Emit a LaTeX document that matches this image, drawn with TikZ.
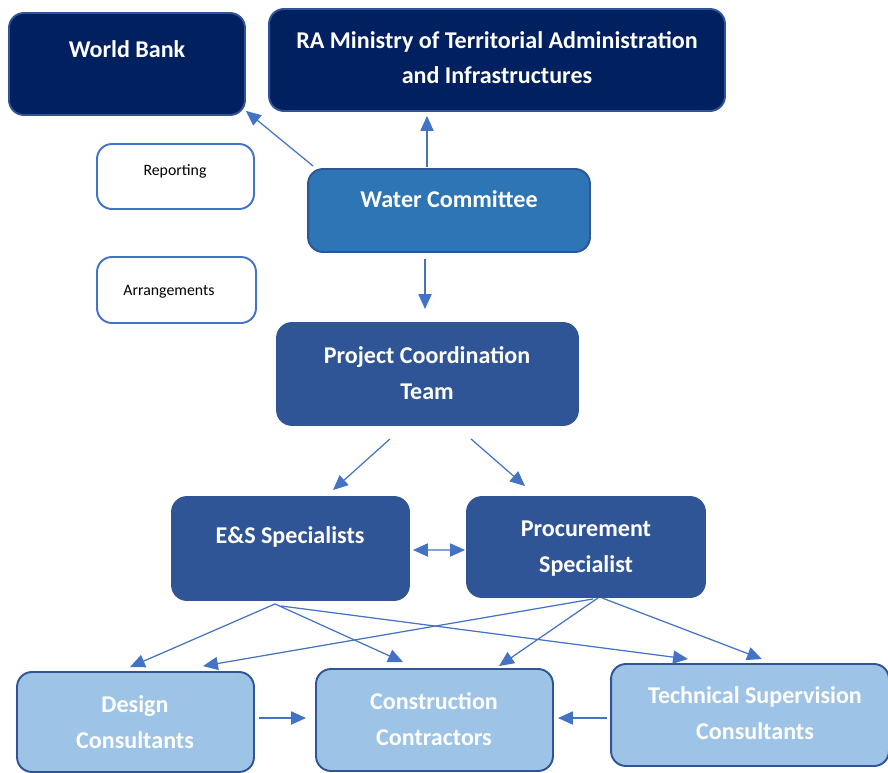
\documentclass[tikz,border=0pt]{standalone}
\usepackage{fontspec}
\setmainfont{Carlito}
\usetikzlibrary{arrows.meta,calc}

\definecolor{navy}{HTML}{002060}
\definecolor{midblue}{HTML}{2E75B6}
\definecolor{steel}{HTML}{2F5597}
\definecolor{pale}{HTML}{9DC3E6}
\definecolor{link}{HTML}{4472C4}

\tikzset{
  orgbox/.style={draw=steel, line width=1.1pt, rounded corners=8.5pt, inner sep=0pt},
  notebox/.style={draw=link, line width=1.1pt, fill=white, rounded corners=8.5pt, inner sep=0pt},
  title/.style={text=white, font=\bfseries\fontsize{13.7}{20}\selectfont, align=center, anchor=base, inner sep=0pt},
  note/.style={text=black, font=\fontsize{9}{11}\selectfont, anchor=base, inner sep=0pt},
  flow/.style={draw=link, line width=0.7pt, -{Triangle[length=8.5pt, width=7.5pt]}}
}

\begin{document}
\begin{tikzpicture}[x=0.02cm, y=-0.02cm]
  \useasboundingbox (0,0) rectangle (888,773);

  % boxes
  \node (wb)     [orgbox, fill=navy, minimum width=4.72cm, minimum height=2.04cm] at (127,64) {};
  \node (min)    [orgbox, fill=navy, minimum width=9.12cm, minimum height=2.04cm] at (497,60) {};
  \node (rep)    [notebox, minimum width=3.14cm, minimum height=1.30cm] at (175.5,176.5) {};
  \node (arr)    [notebox, minimum width=3.18cm, minimum height=1.32cm] at (176.5,290) {};
  \node (wc)     [orgbox, fill=midblue, minimum width=5.64cm, minimum height=1.66cm] at (449,210.5) {};
  \node (pct)    [orgbox, fill=steel, minimum width=6.02cm, minimum height=2.04cm] at (427.5,374) {};
  \node (es)     [orgbox, fill=steel, minimum width=4.74cm, minimum height=2.06cm] at (290.5,548.5) {};
  \node (proc)   [orgbox, fill=steel, minimum width=4.76cm, minimum height=2.0cm] at (586,547) {};
  \node (design) [orgbox, fill=pale, minimum width=4.74cm, minimum height=2.0cm] at (135.5,722) {};
  \node (constr) [orgbox, fill=pale, minimum width=4.74cm, minimum height=2.04cm] at (434.5,720) {};
  \node (tech)   [orgbox, fill=pale, minimum width=5.56cm, minimum height=2.04cm] at (750,715) {};

  % texts (base = last line)
  \node (wb-t)     [title] at (127,58)  {World Bank};
  \node (min-t)    [title] at (497,84)  {RA Ministry of Territorial Administration\\and Infrastructures};
  \node (rep-t)    [note]  at (175,176) {Reporting};
  \node (arr-t)    [note]  at (169,296) {Arrangements};
  \node (wc-t)     [title] at (449,208) {Water Committee};
  \node (pct-t)    [title] at (427,399) {Project Coordination\\Team};
  \node (es-t)     [title] at (290,543) {E\&S Specialists};
  \node (proc-t)   [title] at (586,572) {Procurement\\Specialist};
  \node (design-t) [title] at (135,748) {Design\\Consultants};
  \node (constr-t) [title] at (434,745) {Construction\\Contractors};
  \node (tech-t)   [title] at (755,739) {Technical Supervision\\Consultants};

  % reporting lines
  \draw[flow] ($(wc.north west)+(6,-2)$) -- ($(wb.south east)+(0,-5)$);
  \draw[flow] ($(wc.north)+(-22,-1)$) -- ($(min.south)+(-70,4)$);
  \draw[flow] ($(wc.south)+(-24,6)$) -- ($(pct.north)+(-2.5,-13)$);
  \draw[flow] ($(pct.south)+(-37.5,13)$) -- ($(es.north)+(42.5,-6)$);
  \draw[flow] ($(pct.south)+(43.5,13)$) -- ($(proc.north)+(-61,-10)$);
  \draw[flow, {Triangle[length=8.5pt, width=7.5pt]}-{Triangle[length=8.5pt, width=7.5pt]}]
    ($(es.east)+(3,1.5)$) -- ($(proc.west)+(-1,3)$);

  % specialists to consultants and contractors
  \draw[flow] ($(es.south)+(-15.5,3)$) -- ($(design.north)+(-5.5,-4)$);
  \draw[flow] ($(es.south)+(-15.5,3)$) -- ($(constr.north)+(-31.5,-6)$);
  \draw[flow] ($(es.south)+(-9.5,5)$) -- ($(tech.north)+(-62,-4)$);
  \draw[flow] ($(proc.south)+(7,1)$) -- ($(design.north)+(67.5,-5)$);
  \draw[flow] ($(proc.south)+(12,0)$) -- ($(constr.north)+(64.5,-2)$);
  \draw[flow] ($(proc.south)+(16,0)$) -- ($(tech.north)+(12,-4)$);
  \draw[flow] ($(design.east)+(4,-4)$) -- ($(constr.west)+(-9,-2)$);
  \draw[flow] ($(tech.west)+(-3,3)$) -- ($(constr.east)+(4,-2)$);
\end{tikzpicture}
\end{document}
